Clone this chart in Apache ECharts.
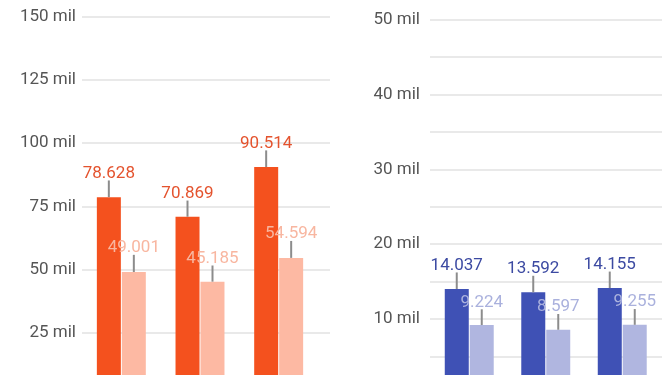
<!DOCTYPE html>
<html>
<head>
<meta charset="utf-8">
<script src="https://cdn.jsdelivr.net/npm/echarts@6/dist/echarts.min.js"></script>
<style>
html,body{margin:0;padding:0;background:#fff;}
#chart{width:668px;height:375px;}
</style>
</head>
<body>
<div id="chart"></div>
<script>
// Data
const categories = ['A', 'B', 'C'];
const leftDark = [78628, 70869, 90514];
const leftLight = [49001, 45185, 54594];
const leftDarkErr = [6600, 6400, 6600];
const leftLightErr = [6800, 6400, 6700];
const rightDark = [14037, 13592, 14155];
const rightLight = [9224, 8597, 9255];
const rightDarkErr = [2200, 2200, 2200];
const rightLightErr = [2100, 2100, 2100];
const leftTicks = [0, 150000, 25000];   // min, max, interval
const rightTicks = [0, 50000, 5000];

const FONT = 'Roboto, "Noto Sans", sans-serif';
const gridColor = '#e9e9e9';

function fmt(v) {
  return String(v).replace(/\B(?=(\d{3})+(?!\d))/g, '.');
}

function errSeries(xi, yi, vals, errs, offset, labelColor) {
  return {
    type: 'custom',
    xAxisIndex: xi,
    yAxisIndex: yi,
    z: 5,
    silent: true,
    clip: false,
    data: vals.map((v, i) => [i, v, errs[i]]),
    renderItem: function (params, api) {
      const i = api.value(0), v = api.value(1), e = api.value(2);
      const base = api.coord([i, v]);
      const top = api.coord([i, v + e]);
      const x = base[0] + offset;
      return {
        type: 'group',
        children: [
          { type: 'line', shape: { x1: x, y1: base[1], x2: x, y2: top[1] },
            style: { stroke: '#8c8c8c', lineWidth: 2 } },
          { type: 'text', x: x, y: top[1] - 7,
            style: { text: fmt(v), fill: labelColor, fontSize: 17, fontFamily: FONT,
                     align: 'center', verticalAlign: 'middle' } }
        ]
      };
    }
  };
}

const chart = echarts.init(document.getElementById('chart'), null, { renderer: 'canvas' });

const axisLabelStyle = { color: '#555', fontSize: 17, fontFamily: FONT };

const option = {
  animation: false,
  backgroundColor: '#fff',
  grid: [
    { left: 82, top: 16.7, width: 248, height: 379.2, outerBoundsMode: 'none', containLabel: false },
    { left: 82, top: 16.7, width: 236, height: 379.2, outerBoundsMode: 'none', containLabel: false },
    { left: 430, top: 19.3, width: 232, height: 374.9, outerBoundsMode: 'none', containLabel: false },
    { left: 431, top: 19.3, width: 229.5, height: 374.9, outerBoundsMode: 'none', containLabel: false }
  ],
  xAxis: [
    { gridIndex: 0, type: 'category', data: categories, show: false },
    { gridIndex: 1, type: 'category', data: categories, show: false },
    { gridIndex: 2, type: 'category', data: categories, show: false },
    { gridIndex: 3, type: 'category', data: categories, show: false }
  ],
  yAxis: [
    { gridIndex: 0, type: 'value', min: leftTicks[0], max: leftTicks[1], interval: leftTicks[2],
      axisLine: { show: false }, axisTick: { show: false },
      splitLine: { lineStyle: { color: gridColor, width: 2 } },
      axisLabel: Object.assign({ margin: 6, formatter: v => v === 0 ? '' : (v / 1000) + ' mil' }, axisLabelStyle) },
    { gridIndex: 1, type: 'value', min: leftTicks[0], max: leftTicks[1], show: false },
    { gridIndex: 2, type: 'value', min: rightTicks[0], max: rightTicks[1], interval: rightTicks[2],
      axisLine: { show: false }, axisTick: { show: false },
      splitLine: { lineStyle: { color: gridColor, width: 2 } },
      axisLabel: Object.assign({ margin: 10, formatter: v => (v === 0 || v % 10000 !== 0) ? '' : (v / 1000) + ' mil' }, axisLabelStyle) },
    { gridIndex: 3, type: 'value', min: rightTicks[0], max: rightTicks[1], show: false }
  ],
  series: [
    { type: 'bar', xAxisIndex: 1, yAxisIndex: 1, data: leftDark, barWidth: 24, barGap: '4%',
      itemStyle: { color: '#f4511e' } },
    { type: 'bar', xAxisIndex: 1, yAxisIndex: 1, data: leftLight, barWidth: 24, barGap: '4%',
      itemStyle: { color: '#fdb9a3' } },
    { type: 'bar', xAxisIndex: 3, yAxisIndex: 3, data: rightDark, barWidth: 24, barGap: '4%',
      itemStyle: { color: '#3f51b5' } },
    { type: 'bar', xAxisIndex: 3, yAxisIndex: 3, data: rightLight, barWidth: 24, barGap: '4%',
      itemStyle: { color: '#b0b6e0' } },
    errSeries(1, 1, leftDark, leftDarkErr, -12.5, '#e4532e'),
    errSeries(1, 1, leftLight, leftLightErr, 12.5, '#f8b6a0'),
    errSeries(3, 3, rightDark, rightDarkErr, -12.5, '#3c4aa2'),
    errSeries(3, 3, rightLight, rightLightErr, 12.5, '#aab1dd')
  ]
};

chart.setOption(option);
</script>
</body>
</html>
